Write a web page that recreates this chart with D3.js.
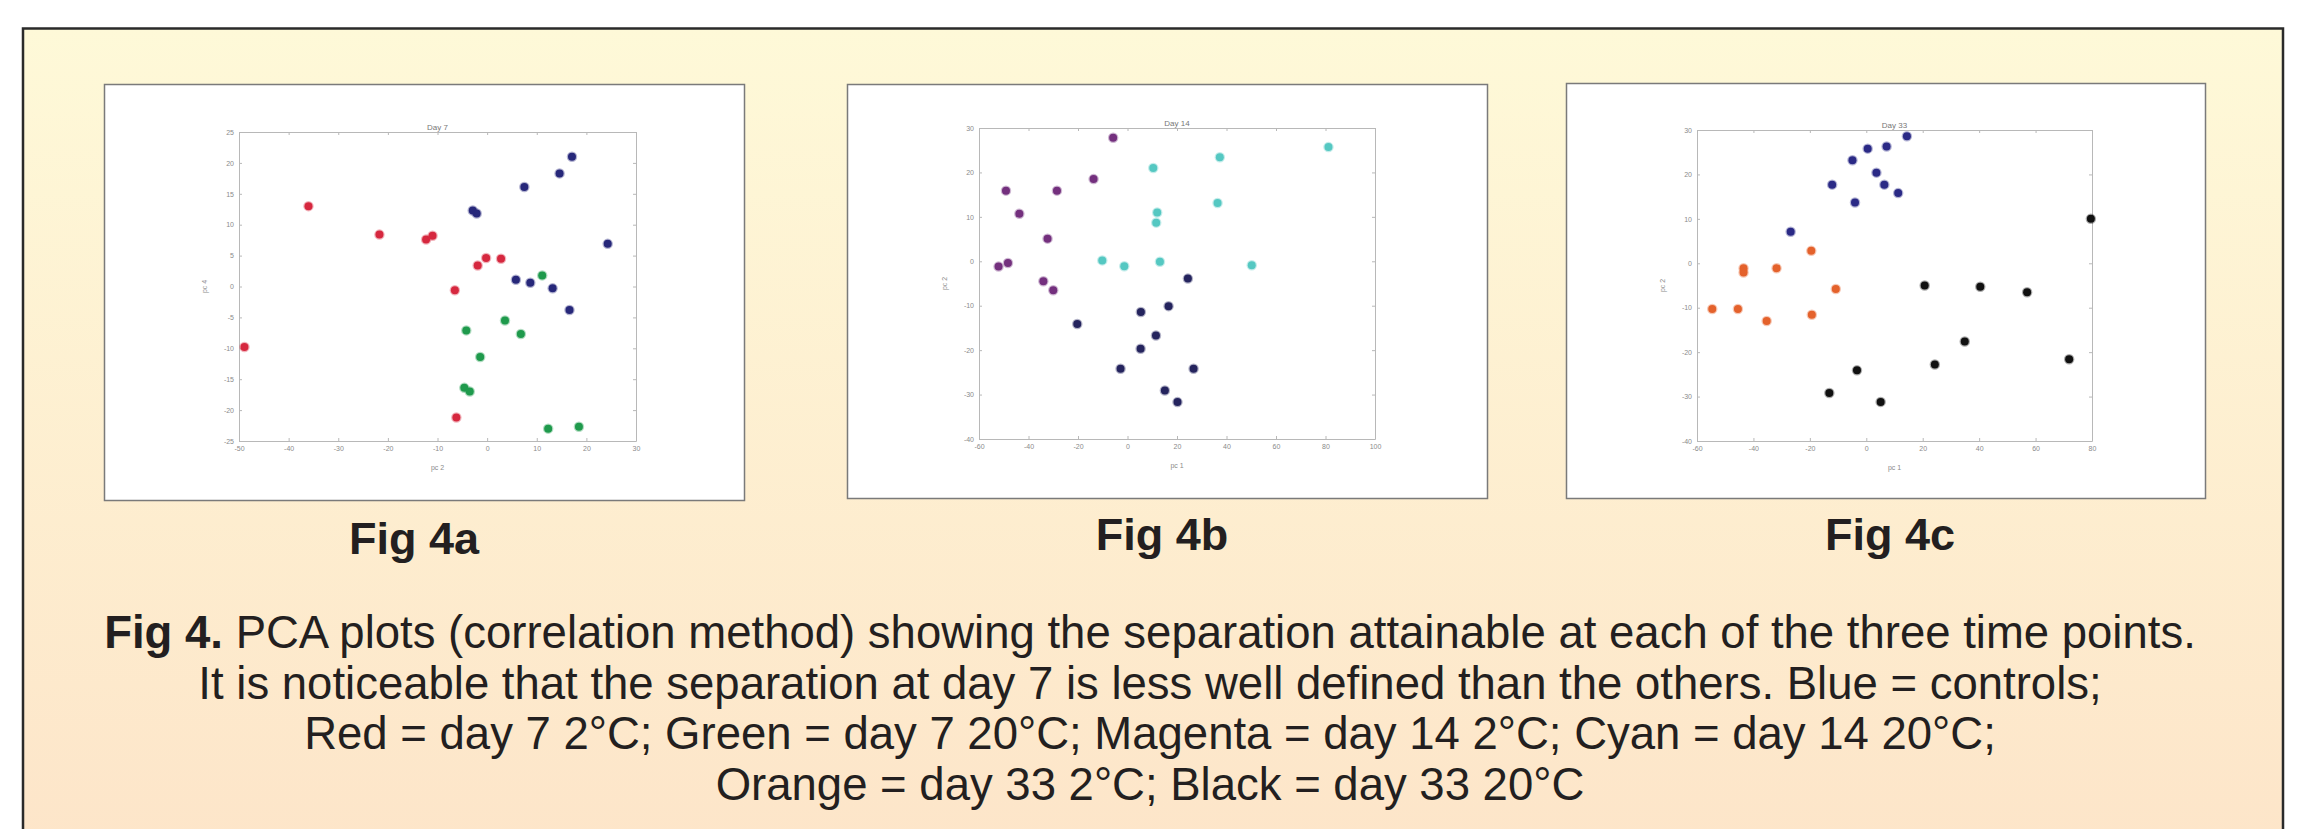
<!DOCTYPE html>
<html>
<head>
<meta charset="utf-8">
<script src="https://cdn.jsdelivr.net/npm/d3@7"></script>
<style>
  body { margin: 0; background: #fff; }
  svg { display: block; font-family: "Liberation Sans", Arial, sans-serif; }
</style>
</head>
<body>
<div id="fig"></div>
<script>
// --- data ---
// Day 7 (pc 2 vs pc 4)
const day7Controls = [[17.1,21.0],[14.6,18.3],[7.5,16.1],[-2.9,12.3],[-2.1,11.8],[24.3,6.9],[5.8,1.1],[8.7,0.6],[13.2,-0.3],[16.6,-3.8]];
const day7Cold = [[-36,13.0],[-21.7,8.4],[-12.3,7.6],[-11.0,8.2],[-0.2,4.6],[-1.9,3.4],[2.8,4.5],[-6.5,-0.6],[-48.9,-9.8],[-6.2,-21.2]];
const day7Warm = [[11.1,1.8],[3.6,-5.5],[-4.2,-7.1],[6.8,-7.7],[-1.4,-11.4],[-4.6,-16.4],[-3.5,-17.0],[12.3,-23.0],[18.5,-22.7]];
// Day 14 (pc 1 vs pc 2)
const day14Controls = [[24.4,-3.9],[16.6,-10.1],[5.4,-11.4],[-20.3,-14.1],[11.5,-16.7],[5.3,-19.7],[-2.8,-24.2],[26.7,-24.2],[15.1,-29.1],[20.2,-31.7]];
const day14Cold = [[-49.1,15.9],[-43.7,10.7],[-28.5,15.9],[-13.7,18.5],[-32.3,5.1],[-52.1,-1.2],[-48.3,-0.4],[-34,-4.5],[-30,-6.5],[-5.8,27.8]];
const day14Warm = [[81.2,25.7],[37.3,23.4],[10.4,21.0],[36.4,13.1],[12.0,11.0],[11.6,8.7],[-10.2,0.2],[-1.3,-1.1],[13.1,-0.1],[50.2,-0.9]];
// Day 33 (pc 1 vs pc 2)
const day33Controls = [[14.4,28.6],[0.5,25.8],[7.2,26.3],[-4.9,23.2],[3.6,20.4],[-12.1,17.7],[6.4,17.7],[11.3,15.8],[-4.0,13.7],[-26.8,7.1]];
const day33Cold = [[-19.5,2.8],[-31.8,-1.1],[-43.5,-1.1],[-43.5,-2.1],[-10.8,-5.8],[-54.6,-10.3],[-45.5,-10.3],[-19.3,-11.6],[-35.3,-13.0]];
const day33Warm = [[79.6,10.0],[20.7,-5.0],[40.4,-5.3],[57.0,-6.5],[34.9,-17.6],[24.3,-22.8],[71.9,-21.6],[-3.3,-24.1],[-13.1,-29.2],[5.1,-31.2]];

const day7XTicks = [-50,-40,-30,-20,-10,0,10,20,30];
const day7YTicks = [-25,-20,-15,-10,-5,0,5,10,15,20,25];
const day14XTicks = [-60,-40,-20,0,20,40,60,80,100];
const day33XTicks = [-60,-40,-20,0,20,40,60,80];
const pcYTicks = [-40,-30,-20,-10,0,10,20,30];

const figLabels = ["Fig 4a", "Fig 4b", "Fig 4c"];
const captionLines = [
  "PCA plots (correlation method) showing the separation attainable at each of the three time points.",
  "It is noticeable that the separation at day 7 is less well defined than the others. Blue = controls;",
  "Red = day 7 2°C; Green = day 7 20°C; Magenta = day 14 2°C; Cyan = day 14 20°C;",
  "Orange = day 33 2°C; Black = day 33 20°C"
];

const W = 2315, H = 829;

const svg = d3.select("#fig").append("svg")
  .attr("width", W)
  .attr("height", H);

// background gradient
const grad = svg.append("defs").append("linearGradient")
  .attr("id", "bg").attr("x1", 0).attr("y1", 0).attr("x2", 0).attr("y2", 1);
grad.append("stop").attr("offset", "0%").attr("stop-color", "#fef9d8");
grad.append("stop").attr("offset", "100%").attr("stop-color", "#fde5c9");

svg.append("rect")
  .attr("x", 23).attr("y", 28.5)
  .attr("width", 2260).attr("height", 820)
  .attr("fill", "url(#bg)")
  .attr("stroke", "#2a2a2a")
  .attr("stroke-width", 2.5);

// panels
const panels = [
  { box: [104, 84, 744, 500], plot: [239, 132, 636, 441], title: "Day 7",
    xDom: [-50, 30], yDom: [-25, 25], xTicks: day7XTicks, yTicks: day7YTicks,
    xLab: "pc 2", yLab: "pc 4",
    series: [
      { pts: day7Cold, color: "#d6283f" },
      { pts: day7Controls, color: "#27287a" },
      { pts: day7Warm, color: "#1f9a4c" }
    ] },
  { box: [847, 84, 1487, 498], plot: [979, 128, 1375, 439], title: "Day 14",
    xDom: [-60, 100], yDom: [-40, 30], xTicks: day14XTicks, yTicks: pcYTicks,
    xLab: "pc 1", yLab: "pc 2",
    series: [
      { pts: day14Cold, color: "#74307e" },
      { pts: day14Warm, color: "#55c8c2" },
      { pts: day14Controls, color: "#25245e" }
    ] },
  { box: [1566, 83, 2205, 498], plot: [1697, 130, 2092, 441], title: "Day 33",
    xDom: [-60, 80], yDom: [-40, 30], xTicks: day33XTicks, yTicks: pcYTicks,
    xLab: "pc 1", yLab: "pc 2",
    series: [
      { pts: day33Controls, color: "#2b2a86" },
      { pts: day33Cold, color: "#e4622c" },
      { pts: day33Warm, color: "#111111" }
    ] }
];

panels.forEach(p => {
  const [bx0, by0, bx1, by1] = p.box;
  const [px0, py0, px1, py1] = p.plot;

  svg.append("rect")
    .attr("x", bx0 + 0.5).attr("y", by0 + 0.5)
    .attr("width", bx1 - bx0).attr("height", by1 - by0)
    .attr("fill", "#fff")
    .attr("stroke", "#7a7a7a")
    .attr("stroke-width", 1.5);

  const x = d3.scaleLinear().domain(p.xDom).range([px0, px1]);
  const y = d3.scaleLinear().domain(p.yDom).range([py1, py0]);

  const g = svg.append("g");

  const styleAxis = sel => {
    sel.select(".domain").attr("stroke", "#b8b8b8");
    sel.selectAll(".tick line").attr("stroke", "#b8b8b8");
    sel.selectAll(".tick text").attr("fill", "#8a8a8a").style("font-size", "7px");
  };

  g.append("g")
    .attr("transform", `translate(0,${py1})`)
    .call(d3.axisBottom(x).tickValues(p.xTicks).tickSizeInner(-3).tickSizeOuter(0)
      .tickPadding(5).tickFormat(d => d))
    .call(styleAxis);
  g.append("g")
    .attr("transform", `translate(0,${py0})`)
    .call(d3.axisTop(x).tickValues(p.xTicks).tickSizeInner(-3).tickSizeOuter(0).tickFormat(""))
    .call(styleAxis);
  g.append("g")
    .attr("transform", `translate(${px0},0)`)
    .call(d3.axisLeft(y).tickValues(p.yTicks).tickSizeInner(-3).tickSizeOuter(0)
      .tickPadding(5).tickFormat(d => d))
    .call(styleAxis);
  g.append("g")
    .attr("transform", `translate(${px1},0)`)
    .call(d3.axisRight(y).tickValues(p.yTicks).tickSizeInner(-3).tickSizeOuter(0).tickFormat(""))
    .call(styleAxis);

  // title & axis labels
  g.append("text")
    .attr("x", (px0 + px1) / 2).attr("y", py0 - 2)
    .attr("text-anchor", "middle")
    .attr("fill", "#777").style("font-size", "8px")
    .text(p.title);
  g.append("text")
    .attr("x", (px0 + px1) / 2).attr("y", py1 + 29)
    .attr("text-anchor", "middle")
    .attr("fill", "#8a8a8a").style("font-size", "7px")
    .text(p.xLab);
  g.append("text")
    .attr("transform", `translate(${px0 - 32},${(py0 + py1) / 2}) rotate(-90)`)
    .attr("text-anchor", "middle")
    .attr("fill", "#8a8a8a").style("font-size", "7px")
    .text(p.yLab);

  // points
  p.series.forEach(s => {
    g.selectAll(null)
      .data(s.pts)
      .enter()
      .append("circle")
        .attr("cx", d => x(d[0]))
        .attr("cy", d => y(d[1]))
        .attr("r", 4)
        .attr("fill", s.color)
        .attr("stroke", s.color)
        .attr("stroke-opacity", 0.35)
        .attr("stroke-width", 2.5);
  });
});

// panel captions
const labelPos = [[414, 554], [1162, 550], [1890, 550]];
figLabels.forEach((t, i) => {
  svg.append("text")
    .attr("x", labelPos[i][0]).attr("y", labelPos[i][1])
    .attr("text-anchor", "middle")
    .attr("fill", "#231f20")
    .style("font-size", "45px").style("font-weight", "bold")
    .text(t);
});

// figure caption
const cap = svg.append("g").attr("fill", "#231f20").style("font-size", "45.5px");
captionLines.forEach((line, i) => {
  const t = cap.append("text")
    .attr("x", 1150).attr("y", 648 + i * 50.5)
    .attr("text-anchor", "middle");
  if (i === 0) {
    t.append("tspan").style("font-weight", "bold").text("Fig 4. ");
  }
  t.append("tspan").text(line);
});
</script>
</body>
</html>
